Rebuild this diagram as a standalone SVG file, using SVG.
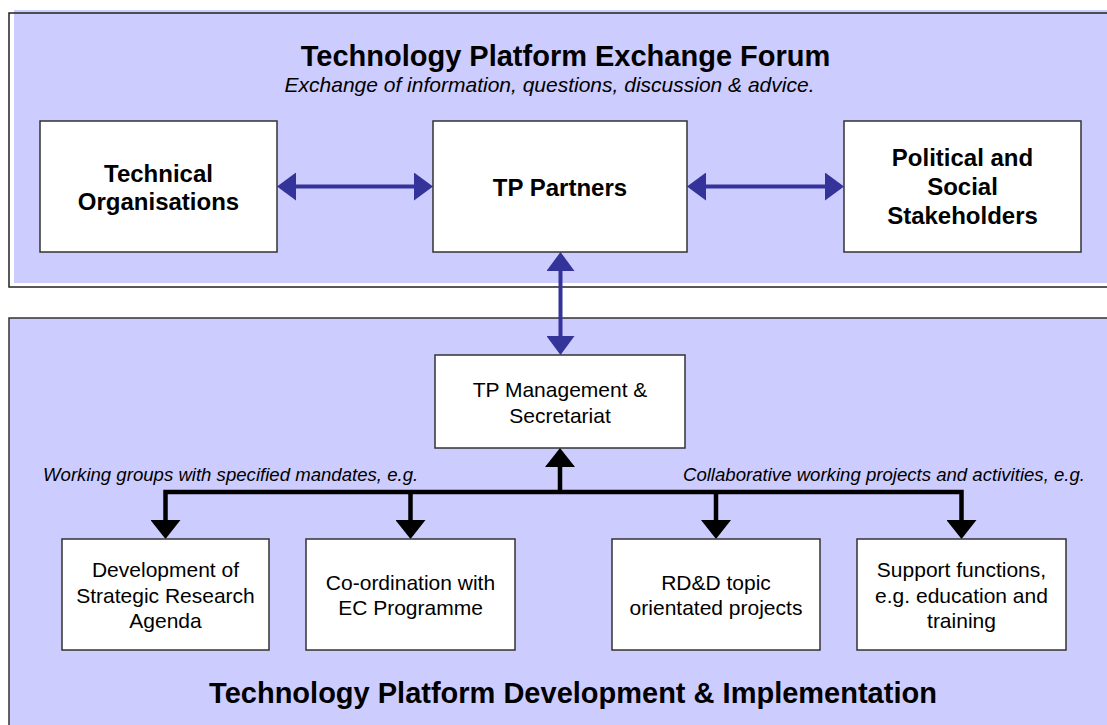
<svg xmlns="http://www.w3.org/2000/svg" width="1107" height="725" viewBox="0 0 1107 725">
<defs>
<style>
.panel{fill:#CCCCFF}
.frame{fill:none;stroke:#222;stroke-width:1.5}
.box{fill:#FFFFFF;stroke:#333;stroke-width:1.5}
text{font-family:"Liberation Sans",Arial,sans-serif;fill:#000}
.title{font-size:29px;font-weight:bold;text-anchor:middle}
.sub{font-size:21px;font-style:italic;text-anchor:middle}
.lbl{font-size:18.6px;font-style:italic}
.bn{font-size:24px;font-weight:bold;text-anchor:middle}
.rn{font-size:21px;text-anchor:middle}
.blue{fill:none;stroke:#333399;stroke-width:4}
.blk{fill:none;stroke:#000;stroke-width:4.5;stroke-linejoin:miter}
</style>
<marker id="ab" markerUnits="userSpaceOnUse" markerWidth="20" markerHeight="28" refX="9" refY="14" orient="auto-start-reverse" viewBox="0 0 20 28">
<path d="M0,0 L19,14 L0,28 Z" fill="#333399"/>
</marker>
<marker id="ak" markerUnits="userSpaceOnUse" markerWidth="20" markerHeight="30" refX="9" refY="15" orient="auto-start-reverse" viewBox="0 0 20 30">
<path d="M0,0 L19,15 L0,30 Z" fill="#000"/>
</marker>
</defs>
<rect width="1107" height="725" fill="#FFFFFF"/>
<g id="forum-panel">
<rect class="panel" x="14" y="10" width="1093" height="273"/>
<rect class="frame" x="9" y="13" width="1110" height="274"/>
<text class="title" x="565.5" y="66">Technology Platform Exchange Forum</text>
<text class="sub" x="549.5" y="92">Exchange of information, questions, discussion &amp; advice.</text>
</g>
<g id="implementation-panel">
<rect class="panel" x="9" y="318" width="1110" height="420" stroke="#333" stroke-width="1.5"/>
<text class="title" x="573" y="703">Technology Platform Development &amp; Implementation</text>
<text class="lbl" x="43" y="481">Working groups with specified mandates, e.g.</text>
<text class="lbl" x="1085" y="481" text-anchor="end">Collaborative working projects and activities, e.g.</text>
</g>
<g id="connectors">
<line class="blue" x1="287" y1="186.5" x2="423" y2="186.5" marker-start="url(#ab)" marker-end="url(#ab)"/>
<line class="blue" x1="697" y1="186.5" x2="834" y2="186.5" marker-start="url(#ab)" marker-end="url(#ab)"/>
<line class="blue" x1="560.5" y1="262" x2="560.5" y2="345" marker-start="url(#ab)" marker-end="url(#ab)"/>
<line class="blk" x1="560" y1="494" x2="560" y2="458" marker-end="url(#ak)"/>
<path class="blk" d="M165.5,529 V492 H961.5 V529" marker-start="url(#ak)" marker-end="url(#ak)"/>
<line class="blk" x1="410.5" y1="492" x2="410.5" y2="529" marker-end="url(#ak)"/>
<line class="blk" x1="716" y1="492" x2="716" y2="529" marker-end="url(#ak)"/>
</g>
<g id="technical-organisations">
<rect class="box" x="40" y="121" width="237" height="131"/>
<text class="bn" x="158.5" y="182">Technical</text>
<text class="bn" x="158.5" y="210">Organisations</text>
</g>
<g id="tp-partners">
<rect class="box" x="433" y="121" width="254" height="131"/>
<text class="bn" x="560" y="196">TP Partners</text>
</g>
<g id="political-social-stakeholders">
<rect class="box" x="844" y="121" width="237" height="131"/>
<text class="bn" x="962.5" y="166">Political and</text>
<text class="bn" x="962.5" y="195">Social</text>
<text class="bn" x="962.5" y="224">Stakeholders</text>
</g>
<g id="tp-management">
<rect class="box" x="435" y="355" width="250" height="93"/>
<text class="rn" x="560" y="397">TP Management &amp;</text>
<text class="rn" x="560" y="423">Secretariat</text>
</g>
<g id="strategic-research-agenda">
<rect class="box" x="62" y="539" width="207" height="111"/>
<text class="rn" x="165.5" y="577">Development of</text>
<text class="rn" x="165.5" y="603">Strategic Research</text>
<text class="rn" x="165.5" y="628">Agenda</text>
</g>
<g id="ec-coordination">
<rect class="box" x="306" y="539" width="209" height="111"/>
<text class="rn" x="410.5" y="590">Co-ordination with</text>
<text class="rn" x="410.5" y="615">EC Programme</text>
</g>
<g id="rdd-projects">
<rect class="box" x="612" y="539" width="208" height="111"/>
<text class="rn" x="716" y="590">RD&amp;D topic</text>
<text class="rn" x="716" y="615">orientated projects</text>
</g>
<g id="support-functions">
<rect class="box" x="857" y="539" width="209" height="111"/>
<text class="rn" x="961.5" y="577">Support functions,</text>
<text class="rn" x="961.5" y="603">e.g. education and</text>
<text class="rn" x="961.5" y="628">training</text>
</g>
</svg>
